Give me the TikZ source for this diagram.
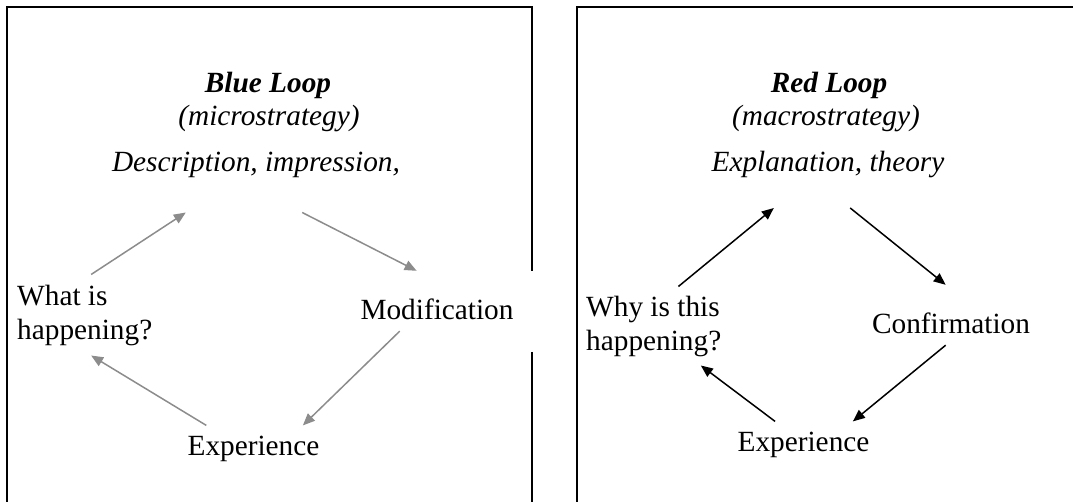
\documentclass[tikz,border=0pt]{standalone}
\usepackage{fontspec}
\setmainfont{Liberation Serif}
\usetikzlibrary{arrows.meta}
\definecolor{loopgray}{RGB}{140,140,140}

\begin{document}
\begin{tikzpicture}
		[x=1pt,y=-1pt,
		txt/.style={font=\fontsize{29.3}{34}\selectfont,inner sep=0pt},
		hid/.style={inner sep=0pt,minimum height=0pt},
		frame/.style={line width=2pt},
		blueedge/.style={draw=loopgray,line width=1.5pt,-{Triangle[length=12pt,width=10pt]}},
		rededge/.style={draw=black,line width=1.5pt,-{Triangle[length=12pt,width=10pt]}}]
		\useasboundingbox (0,0) rectangle (1073,502);

		\draw[frame] (532,271) -- (532,7) -- (7,7) -- (7,510);
		\draw[frame] (532,352) -- (532,510);
		\draw[frame] (1080,7) -- (577,7) -- (577,510);

		\node[txt,anchor=base] (bt1) at (268,93) {\textbf{\textit{Blue Loop}}};
		\node[txt,anchor=base] (bt2) at (269,126) {\textit{(microstrategy)}};
		\node[txt,anchor=base] (bt3) at (256,172) {\textit{Description, impression,}};
		\node[txt,inner ysep=10pt,align=left,anchor=west] (b1) at (17,315) {What is\\happening?};
		\node[hid,minimum width=116pt] (b2) at (244,212.5) {};
		\node[txt,anchor=base,text height=49pt,text depth=11pt] (b3) at (437,320) {Modification};
		\node[txt,inner ysep=10pt,anchor=base] (b4) at (253.5,455) {Experience};

		\draw[blueedge] (b1.81) -- (b2.west);
		\draw[blueedge] (b2.east) -- (b3.124);
		\draw[blueedge] (b3.219) -- (b4.25);
		\draw[blueedge] (b4.154) -- (b1.-81);

		\node[txt,anchor=base] (rt1) at (829,93) {\textbf{\textit{Red Loop}}};
		\node[txt,anchor=base] (rt2) at (826,126) {\textit{(macrostrategy)}};
		\node[txt,anchor=base] (rt3) at (828,172) {\textit{Explanation, theory}};
		\node[txt,inner ysep=9pt,align=left,anchor=west] (r1) at (586,326) {Why is this\\happening?};
		\node[hid,minimum width=76pt] (r2) at (812,208) {};
		\node[txt,anchor=base,text height=49pt,text depth=11pt] (r3) at (951,334) {Confirmation};
		\node[txt,inner ysep=10pt,anchor=base] (r4) at (803.5,451) {Experience};

		\draw[rededge] (r1.58) -- (r2.west);
		\draw[rededge] (r2.east) -- (r3.100);
		\draw[rededge] (r3.260) -- (r4.25);
		\draw[rededge] (r4.141) -- (r1.-40);

	\end{tikzpicture}
\end{document}
